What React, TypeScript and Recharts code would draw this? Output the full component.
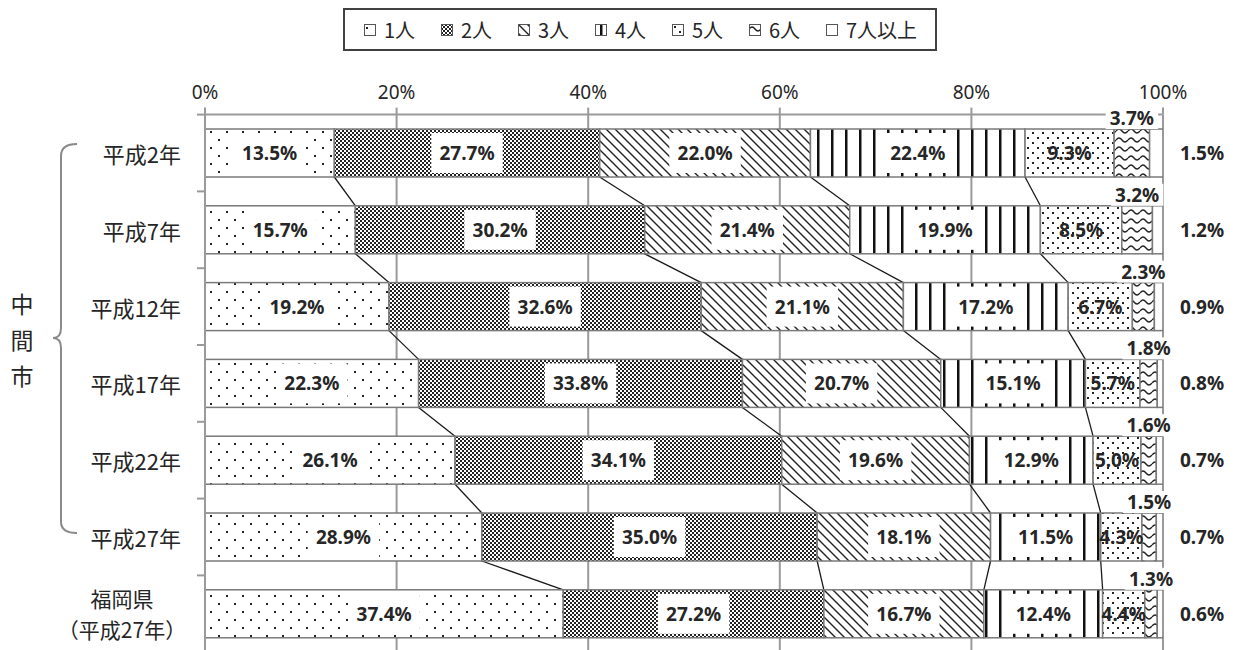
import React from "react";
import {
  Bar,
  BarChart,
  CartesianGrid,
  LabelList,
  XAxis,
  YAxis,
} from "recharts";

// 世帯人員別 一般世帯の割合（中間市・福岡県）
const years = [
  "平成2年",
  "平成7年",
  "平成12年",
  "平成17年",
  "平成22年",
  "平成27年",
  "福岡県\n（平成27年）",
];
const seriesNames = ["1人", "2人", "3人", "4人", "5人", "6人", "7人以上"];
const p1 = [13.5, 15.7, 19.2, 22.3, 26.1, 28.9, 37.4];
const p2 = [27.7, 30.2, 32.6, 33.8, 34.1, 35.0, 27.2];
const p3 = [22.0, 21.4, 21.1, 20.7, 19.6, 18.1, 16.7];
const p4 = [22.4, 19.9, 17.2, 15.1, 12.9, 11.5, 12.4];
const p5 = [9.3, 8.5, 6.7, 5.7, 5.0, 4.3, 4.4];
const p6 = [3.7, 3.2, 2.3, 1.8, 1.6, 1.5, 1.3];
const p7 = [1.5, 1.2, 0.9, 0.8, 0.7, 0.7, 0.6];
const xTicks = [0, 20, 40, 60, 80, 100];
const sideLabel = ["中", "間", "市"];

const series = [p1, p2, p3, p4, p5, p6, p7];
const keys = ["s1", "s2", "s3", "s4", "s5", "s6", "s7"];

const data = years.map((name, i) => {
  const row: Record<string, string | number> = { name };
  series.forEach((s, k) => (row[keys[k]] = s[i]));
  return row;
});

// fraction of each category band left empty on each side of a bar
const GAP = 0.1875;
// series lines are drawn after 1人..4人
const LINKED = 4;

const cum = (i: number, k: number) =>
  series.slice(0, k).reduce((a, s) => a + s[i], 0);

const NUM_FONT = "'Noto Sans', 'Noto Sans CJK JP', sans-serif";
const JP_FONT = "'Noto Sans CJK JP', 'Noto Sans', sans-serif";
const GRID = "#9a9a9a";
const INK = "#262626";
const EDGE = "#7a7a7a";

const fills = [
  "url(#pat1)",
  "url(#pat2)",
  "url(#pat3)",
  "url(#pat4)",
  "url(#pat5)",
  "url(#pat6)",
  "#ffffff",
];

function textWidth(s: string, size: number) {
  let w = 0;
  for (const c of s) {
    if (c === ".") w += 0.3;
    else if (c === "%") w += 0.88;
    else w += 0.58;
  }
  return w * size;
}

const fmt = (v: number) => `${v.toFixed(1)}%`;

// bar segment + Excel-style series line to the same boundary in the next bar
function segmentShape(k: number) {
  return (props: any) => {
    const { x, y, width, height, index } = props;
    const i = Number(index);
    let link = null;
    if (k < LINKED && i < years.length - 1 && series[k][i] > 0) {
      const ppu = width / series[k][i];
      const x0 = x - cum(i, k) * ppu;
      const band = height / (1 - 2 * GAP);
      link = (
        <line
          x1={x + width}
          y1={y + height}
          x2={x0 + cum(i + 1, k + 1) * ppu}
          y2={y + height + band * 2 * GAP}
          stroke="#1a1a1a"
          strokeWidth={1.3}
        />
      );
    }
    return (
      <g>
        <rect x={x} y={y} width={width} height={height} fill={fills[k]} stroke={EDGE} strokeWidth={1.5} />
        {link}
      </g>
    );
  };
}

function boxLabel(props: any) {
  const vb = props.viewBox ?? props;
  const { x, y, width, height } = vb;
  const t = fmt(Number(props.value));
  const cx = x + width / 2;
  const cy = y + height / 2;
  const tw = textWidth(t, 19);
  return (
    <g>
      <rect x={cx - tw / 2 - 8} y={cy - 20} width={tw + 16} height={40} fill="#fff" />
      <text x={cx} y={cy} textAnchor="middle" dominantBaseline="central" fontFamily={NUM_FONT} fontWeight={700} fontSize={19} fill={INK}>
        {t}
      </text>
    </g>
  );
}

function plainLabel(props: any) {
  const vb = props.viewBox ?? props;
  const { x, y, width, height } = vb;
  return (
    <text x={x + width / 2} y={y + height / 2} textAnchor="middle" dominantBaseline="central" fontFamily={NUM_FONT} fontWeight={700} fontSize={19} fill={INK}>
      {fmt(Number(props.value))}
    </text>
  );
}

function aboveLabel(props: any) {
  const vb = props.viewBox ?? props;
  const { x, y, width } = vb;
  const t = fmt(Number(props.value));
  const cx = x + width / 2;
  const cy = y - 11;
  const tw = textWidth(t, 19);
  return (
    <g>
      <rect x={cx - tw / 2 - 4} y={cy - 11} width={tw + 8} height={22} fill="#fff" />
      <text x={cx} y={cy} textAnchor="middle" dominantBaseline="central" fontFamily={NUM_FONT} fontWeight={700} fontSize={19} fill={INK}>
        {t}
      </text>
    </g>
  );
}

function rightLabel(props: any) {
  const vb = props.viewBox ?? props;
  const { x, y, width, height } = vb;
  return (
    <text x={x + width + 39} y={y + height / 2} textAnchor="middle" dominantBaseline="central" fontFamily={NUM_FONT} fontWeight={700} fontSize={19} fill={INK}>
      {fmt(Number(props.value))}
    </text>
  );
}

const labelFns = [boxLabel, boxLabel, boxLabel, boxLabel, plainLabel, aboveLabel, rightLabel];

const Y_TICK_MARGIN = 24;

function YearTick(props: any) {
  const { x, y, payload, index } = props;
  const lines = String(payload.value).split("\n");
  const off = payload.offset ?? 38.4;
  const ax = x + Y_TICK_MARGIN;
  const marks = (
    <g stroke={GRID} strokeWidth={2}>
      <line x1={ax - 8} y1={y - off} x2={ax} y2={y - off} />
      {index === years.length - 1 && <line x1={ax - 8} y1={y + off} x2={ax} y2={y + off} />}
    </g>
  );
  if (lines.length > 1) {
    return (
      <g fontFamily={JP_FONT} fontSize={21} fill={INK}>
        {marks}
        <text x={122} y={y - 16} textAnchor="middle" dominantBaseline="central">{lines[0]}</text>
        <text x={122} y={y + 15} textAnchor="middle" dominantBaseline="central">{lines[1]}</text>
      </g>
    );
  }
  return (
    <g>
      {marks}
      <text x={x} y={y} textAnchor="end" dominantBaseline="central" fontFamily={JP_FONT} fontSize={22} fill={INK}>
        {lines[0]}
      </text>
    </g>
  );
}

function Patterns() {
  return (
    <svg width={0} height={0} style={{ position: "absolute" }}>
      <defs>
        <pattern id="pat1" width={16} height={16} patternUnits="userSpaceOnUse">
          <rect width={16} height={16} fill="#fff" />
          <rect x={2} y={3} width={2} height={2} fill="#222" />
          <rect x={10} y={11} width={2} height={2} fill="#222" />
        </pattern>
        <pattern id="pat2" width={4} height={4} patternUnits="userSpaceOnUse">
          <rect width={4} height={4} fill="#fff" />
          <rect x={0} y={0} width={2} height={2} fill="#222" />
          <rect x={2} y={2} width={2} height={2} fill="#222" />
        </pattern>
        <pattern id="pat3" width={9} height={9} patternUnits="userSpaceOnUse">
          <rect width={9} height={9} fill="#fff" />
          <path d="M0,0 L9,9 M-3,6 L3,12 M6,-3 L12,3" stroke="#222" strokeWidth={1.4} />
        </pattern>
        <pattern id="pat4" width={14} height={10} patternUnits="userSpaceOnUse">
          <rect width={14} height={10} fill="#fff" />
          <rect x={5} y={0} width={2.5} height={10} fill="#111" />
        </pattern>
        <pattern id="pat5" width={10} height={10} patternUnits="userSpaceOnUse">
          <rect width={10} height={10} fill="#fff" />
          <rect x={2} y={2} width={2} height={2} fill="#222" />
          <rect x={7} y={7} width={2} height={2} fill="#222" />
        </pattern>
        <pattern id="pat6" width={12} height={9} patternUnits="userSpaceOnUse">
          <rect width={12} height={9} fill="#fff" />
          <path d="M0,5 Q3,1 6,5 T12,5" stroke="#222" strokeWidth={1.3} fill="none" />
        </pattern>
      </defs>
    </svg>
  );
}

function LegendBox() {
  return (
    <div
      style={{
        position: "absolute",
        left: 343,
        top: 8,
        width: 594,
        height: 43,
        border: "2px solid #404040",
        display: "flex",
        alignItems: "center",
        paddingLeft: 19,
        boxSizing: "border-box",
        fontFamily: JP_FONT,
        fontSize: 20,
        color: INK,
        whiteSpace: "nowrap",
      }}
    >
      {seriesNames.map((n, k) => (
        <div key={n} style={{ display: "flex", alignItems: "center", width: k < seriesNames.length - 1 ? 77 : "auto" }}>
          <svg width={12} height={12} style={{ marginRight: 8 }}>
            <rect x={0.5} y={0.5} width={11} height={11} fill={fills[k]} stroke="#555" />
          </svg>
          <span>{n}</span>
        </div>
      ))}
    </div>
  );
}

export default function App() {
  return (
    <div style={{ position: "absolute", left: 0, top: 0, width: 1237, height: 650, overflow: "hidden", background: "#fff" }}>
      <Patterns />
      <LegendBox />
      <svg width={100} height={650} style={{ position: "absolute", left: 0, top: 0 }}>
        <path
          d="M77,144 Q61,144 61,156 L61,328 Q61,338 53,338 Q61,338 61,348 L61,522 Q61,533 77,533"
          stroke="#8a8a8a"
          strokeWidth={2}
          fill="none"
        />
        {sideLabel.map((c, i) => (
          <text key={c} x={22} y={303 + i * 36} textAnchor="middle" dominantBaseline="central" fontFamily={JP_FONT} fontSize={23} fill={INK}>
            {c}
          </text>
        ))}
      </svg>
      <div style={{ position: "absolute", left: 0, top: 0 }}>
        <BarChart
          width={1237}
          height={660}
          data={data}
          layout="vertical"
          margin={{ top: 84.6, right: 74, bottom: 7.8, left: 0 }}
          barCategoryGap={`${GAP * 100}%`}
        >
          <CartesianGrid horizontal={false} stroke={GRID} strokeWidth={2} />
          <XAxis
            type="number"
            orientation="top"
            domain={[0, 100]}
            allowDataOverflow
            ticks={xTicks}
            tickFormatter={(v) => `${v}%`}
            height={30}
            tickSize={7}
            tickMargin={9}
            axisLine={{ stroke: GRID, strokeWidth: 2 }}
            tickLine={{ stroke: GRID, strokeWidth: 2 }}
            tick={{ fontSize: 19, fill: INK, fontFamily: NUM_FONT }}
          />
          <YAxis
            type="category"
            dataKey="name"
            width={205}
            tickLine={false}
            tickSize={0}
            tickMargin={Y_TICK_MARGIN}
            axisLine={{ stroke: GRID, strokeWidth: 2 }}
            tick={<YearTick />}
            interval={0}
          />
          {keys.map((k, idx) => (
            <Bar
              key={k}
              dataKey={k}
              name={seriesNames[idx]}
              stackId="a"
              fill={fills[idx]}
              stroke={EDGE}
              strokeWidth={1.5}
              shape={segmentShape(idx)}
              isAnimationActive={false}
            >
              <LabelList dataKey={k} content={labelFns[idx]} />
            </Bar>
          ))}
        </BarChart>
      </div>
    </div>
  );
}
